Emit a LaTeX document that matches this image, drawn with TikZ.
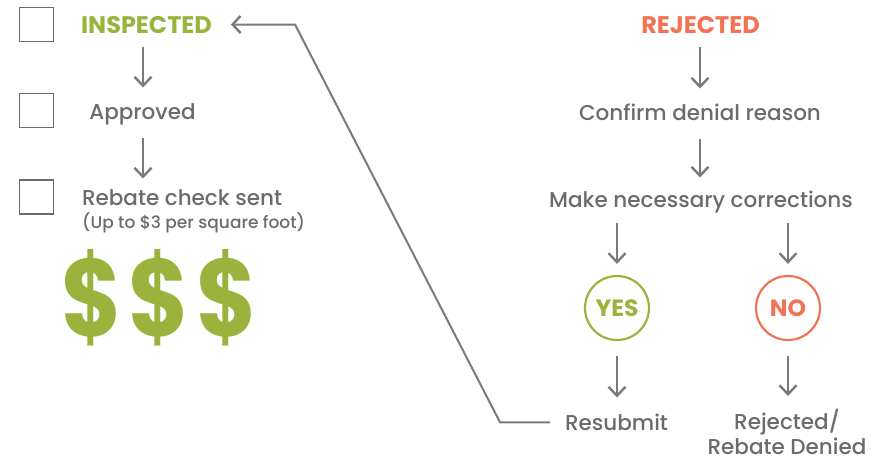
\documentclass[tikz,border=0pt]{standalone}
\usepackage{fontspec}
\setmainfont{Poppins}[UprightFont=* Medium, BoldFont=* Bold]
\usetikzlibrary{arrows.meta,calc}
\definecolor{cgreen}{HTML}{9BB33C}
\definecolor{corange}{HTML}{F27354}
\definecolor{ctext}{HTML}{6B6B6B}
\definecolor{carrow}{HTML}{7A7A7A}
\tikzset{
  txt/.style={inner sep=0pt, outer sep=0pt, text=ctext, font=\fontsize{21.5}{26}\selectfont, text height=15.5pt, text depth=0pt, anchor=south},
  head/.style={txt, font=\fontsize{24}{28}\selectfont\bfseries, text height=17pt},
  small/.style={inner sep=0pt, text=ctext, font=\fontsize{17}{20}\selectfont, anchor=base west},
  dollar/.style={inner sep=0pt, text=cgreen, font=\fontsize{110}{120}\selectfont\bfseries, xscale=0.84},
  chk/.style={draw=ctext, line width=1.8pt, minimum size=34pt, inner sep=0pt},
  ring/.style={circle, line width=2.2pt, minimum size=64pt, inner sep=0pt, font=\fontsize{23.5}{26}\selectfont\bfseries},
  arr/.style={draw=carrow, line width=2.4pt, -{Straight Barb[length=9pt,width=17pt,line width=2.4pt]}},
}
\begin{document}
\begin{tikzpicture}[x=1pt,y=-1pt]
\useasboundingbox (0,0) rectangle (890,459);
% checkboxes
\node[chk] (c1) at (36.5,24.5) {};
\node[chk] (c2) at (36.5,110.5) {};
\node[chk] (c3) at (36.5,197) {};
% left column
\node[head, text=cgreen] (ins) at (146.5,33) {INSPECTED};
\node[txt] (app) at (142.5,119) {Approved};
\node[txt, anchor=south west] (reb) at (82,205) {Rebate check sent};
\node[small] (upto) at (82,228) {(Up to \$3 per square foot)};
\node[dollar] (d1) at (92,298) {\$};
\node[dollar] (d2) at (159,298) {\$};
\node[dollar] (d3) at (227,298) {\$};
\coordinate (colL) at (143,0);
\draw[arr, shorten <=14pt, shorten >=16pt] (ins.south -| colL) -- (app.north -| colL);
\draw[arr, shorten <=19pt, shorten >=11pt] (app.south -| colL) -- (reb.north -| colL);
% right column
\node[head, text=corange] (rej) at (700.5,33) {REJECTED};
\node[txt] (conf) at (700,120) {Confirm denial reason};
\node[txt] (make) at (701,207) {Make necessary corrections};
\node[ring, draw=cgreen, text=cgreen] (yes) at (617,308) {YES};
\node[ring, draw=corange, text=corange] (no) at (788,308) {NO};
\node[txt] (res) at (616.5,430) {Resubmit};
\node[inner sep=0pt, text=ctext, font=\fontsize{21.5}{25}\selectfont, align=center, text depth=0pt, anchor=north] (den) at (787,409) {Rejected/\\Rebate Denied};
\coordinate (colR) at (700,0);
\draw[arr, shorten <=14pt, shorten >=16pt] (rej.south -| colR) -- (conf.north -| colR);
\draw[arr, shorten <=19pt, shorten >=14pt] (conf.south -| colR) -- (make.north -| colR);
\draw[arr, shorten <=16pt, shorten >=11pt] (make.south -| yes) -- (yes.north);
\draw[arr, shorten <=16pt, shorten >=11pt] (make.south -| no) -- (no.north);
\draw[arr, shorten <=15pt, shorten >=17pt] (yes.south) -- (res.north -| yes);
\draw[arr, shorten <=15pt, shorten >=13pt] (no.south) -- (den.north -| no);
% return connector
\coordinate (b1) at (500,0);
\coordinate (b2) at (295,0);
\draw[draw=carrow, line width=2pt, -{Straight Barb[length=8pt,width=17pt,line width=2.4pt]}, shorten <=15pt, shorten >=19pt]
  (res.west) -- (res.west -| b1) -- (b2 |- ins.east) -- (ins.east);
\end{tikzpicture}
\end{document}
